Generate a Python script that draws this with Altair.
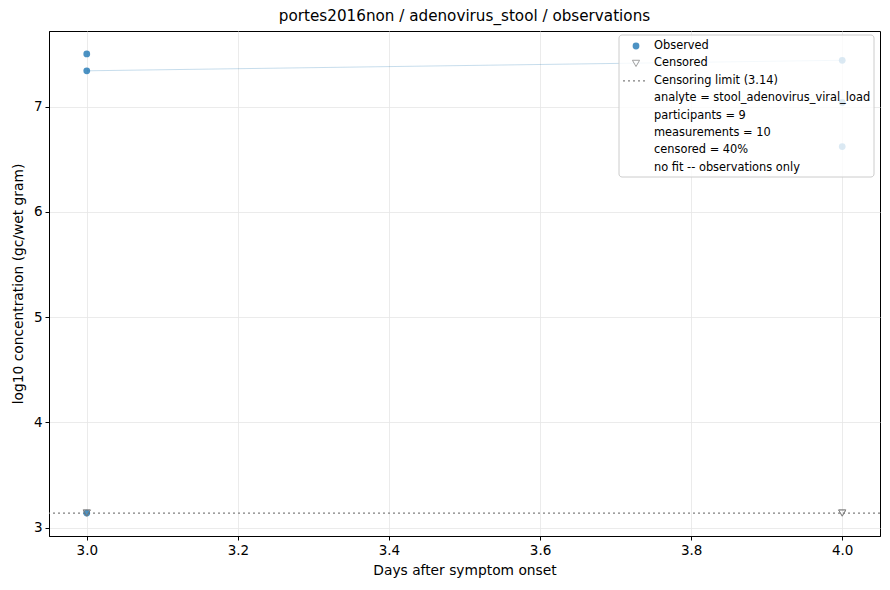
import altair as alt
import pandas as pd

# observed measurements (day, log10 concentration)
obs_day = [3.0, 3.0, 3.0, 4.0, 4.0, 4.0]
obs_val = [7.50, 7.34, 3.14, 7.44, 7.04, 6.62]

# censored measurements, plotted at the limit
cens_day = [3.0, 3.0, 4.0, 4.0]
cens_val = [3.14, 3.14, 3.14, 3.14]

# one participant seen twice
traj_day = [3.0, 4.0]
traj_val = [7.34, 7.44]

limit = 3.14

legend_labels = [
    "Observed",
    "Censored",
    "Censoring limit (3.14)",
    "analyte = stool_adenovirus_viral_load",
    "participants = 9",
    "measurements = 10",
    "censored = 40%",
    "no fit -- observations only",
]

W, H = 831, 505
FONT = "DejaVu Sans"

obs = pd.DataFrame({"day": obs_day, "val": obs_val})
cens = pd.DataFrame({"day": cens_day, "val": cens_val})
traj = pd.DataFrame({"day": traj_day, "val": traj_val})
lim = pd.DataFrame({"val": [limit]})

x_enc = alt.X("day:Q", title="Days after symptom onset",
              scale=alt.Scale(domain=[2.95, 4.05], nice=False, zero=False),
              axis=alt.Axis(values=[3.0, 3.2, 3.4, 3.6, 3.8, 4.0], format=".1f"))
y_enc = alt.Y("val:Q", title="log10 concentration (gc/wet gram)",
              scale=alt.Scale(domain=[2.922, 7.718], nice=False, zero=False),
              axis=alt.Axis(values=[3, 4, 5, 6, 7], format="d"))

line = alt.Chart(traj).mark_line(color="#1f77b4", opacity=0.25, strokeWidth=1).encode(
    x=x_enc, y=y_enc)

limit_rule = alt.Chart(lim).mark_rule(color="#808080", strokeDash=[2, 3], strokeWidth=1.3).encode(
    y="val:Q")

points = alt.Chart(obs).mark_point(filled=True, shape="circle", size=46,
                                   color="#1f77b4", opacity=0.8).encode(x="day:Q", y="val:Q")

censored = alt.Chart(cens).mark_point(shape="triangle-down", size=52, filled=False,
                                      color="#777777", strokeWidth=1).encode(x="day:Q", y="val:Q")

# legend box drawn in pixel space
box_l, box_r, box_t, box_b = 570, 825, 4, 146
legend_box = alt.Chart(pd.DataFrame({"a": [0]})).mark_rect(
    fill="white", fillOpacity=0.8, stroke="#cccccc", strokeWidth=1, cornerRadius=3
).encode(x=alt.value(box_l), x2=alt.value(box_r), y=alt.value(box_t), y2=alt.value(box_b))

leg = pd.DataFrame({"label": legend_labels, "row": list(range(len(legend_labels)))})
legend_text = alt.Chart(leg).mark_text(
    align="left", baseline="middle", font=FONT, fontSize=11.4, color="black"
).transform_calculate(py="15 + datum.row * 17.4").encode(
    x=alt.value(605), y=alt.Y("py:Q", scale=None), text="label:N")

legend_dot = alt.Chart(pd.DataFrame({"a": [0]})).mark_point(
    filled=True, shape="circle", size=46, color="#1f77b4", opacity=0.8
).encode(x=alt.value(587), y=alt.value(15))
legend_tri = alt.Chart(pd.DataFrame({"a": [0]})).mark_point(
    shape="triangle-down", size=52, filled=False, color="#777777", strokeWidth=1
).encode(x=alt.value(587), y=alt.value(32.4))
legend_dash = alt.Chart(pd.DataFrame({"a": [0]})).mark_rule(
    color="#808080", strokeDash=[2, 3], strokeWidth=1.3
).encode(x=alt.value(574), x2=alt.value(596), y=alt.value(49.8))

chart = alt.layer(
    line, limit_rule, points, censored,
    legend_box, legend_text, legend_dot, legend_tri, legend_dash,
).properties(
    width=W, height=H,
    title=alt.Title("portes2016non / adenovirus_stool / observations",
                    font=FONT, fontSize=15.2, fontWeight="normal", offset=7, color="black"),
    autosize=alt.AutoSizeParams(type="none"),
    padding={"left": 41, "top": 23, "right": 2, "bottom": 46},
).configure_view(
    stroke="black", strokeWidth=1
).configure_axis(
    labelFont=FONT, titleFont=FONT, labelFontSize=13.5, titleFontSize=13.8,
    titleFontWeight="normal", labelColor="black", titleColor="black",
    domainColor="black", tickColor="black", tickSize=4, labelPadding=3,
    gridColor="#e6e6e6", gridWidth=0.8,
).configure_axisX(titlePadding=7).configure_axisY(titlePadding=8)

chart.save("out.html", embed_options={"renderer": "svg", "actions": False})
